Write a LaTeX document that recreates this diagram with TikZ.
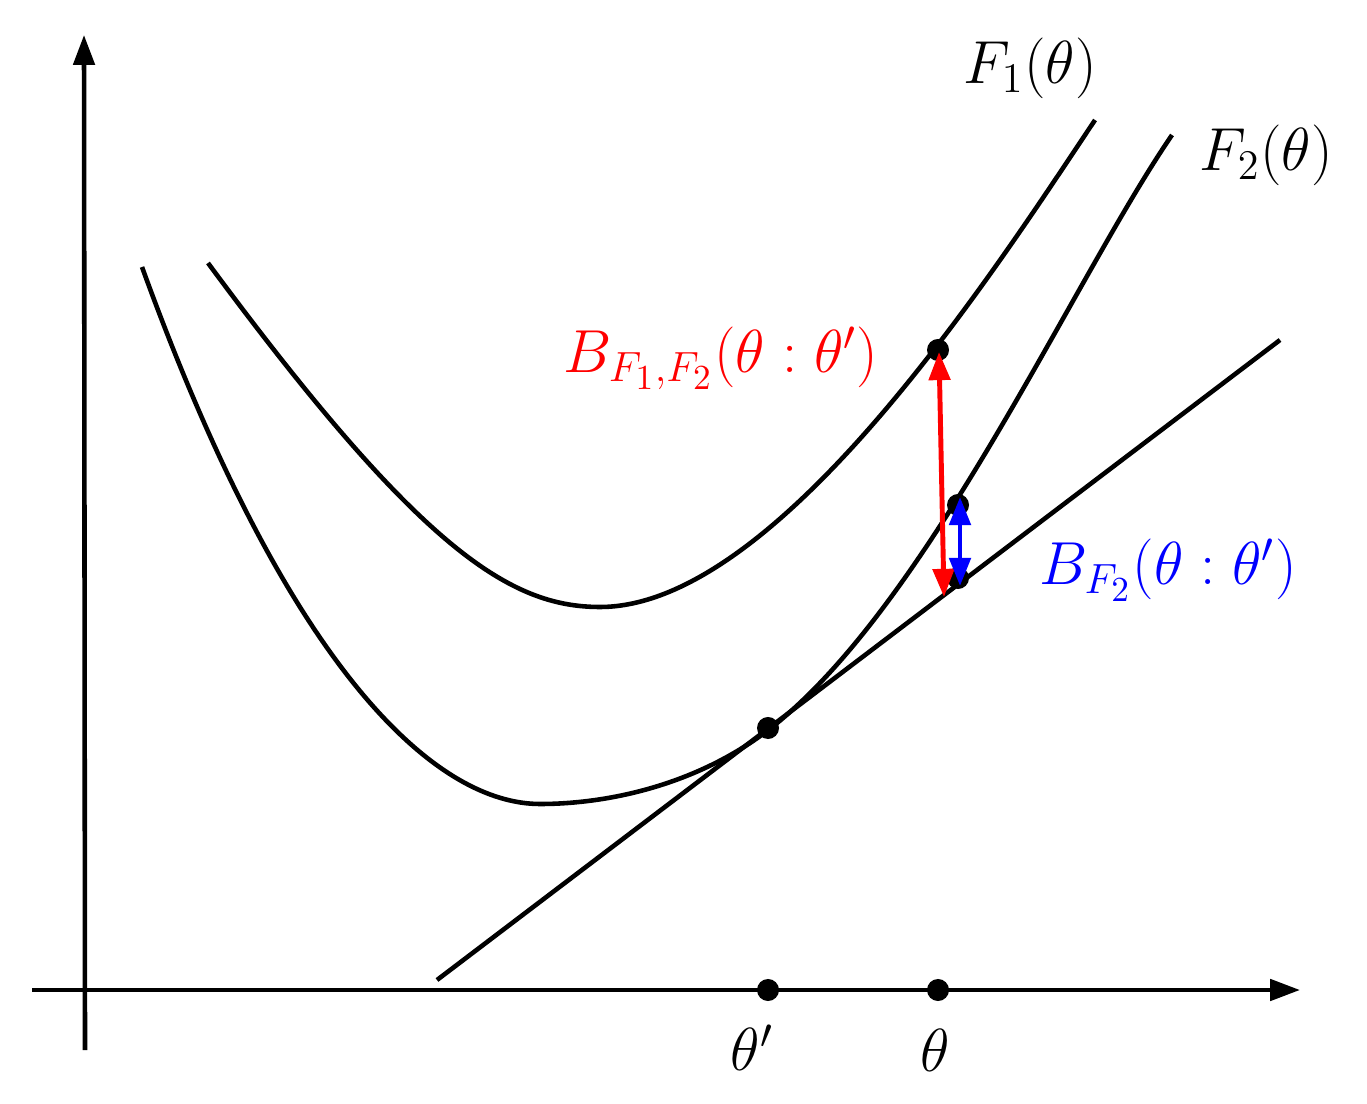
\documentclass[tikz,border=0pt]{standalone}
\usetikzlibrary{arrows.meta}
\begin{document}
\begin{tikzpicture}[x=0.01cm,y=-0.01cm,
  axis/.style={line width=1.3pt,-{Triangle[length=8.5pt,width=6pt]}},
  curve/.style={line width=1.3pt},
  dot/.style={circle,fill=black,inner sep=0pt,minimum size=0.22cm},
  lab/.style={font=\LARGE,inner sep=0pt},
  dbl/.style={line width=1.4pt,{Triangle[length=8pt,width=6pt]}-{Triangle[length=8pt,width=6pt]}}]
\useasboundingbox (0,0) rectangle (1367,1104);
% axes
\coordinate (xs) at (32,990);
\coordinate (xe) at (1300,990);
\coordinate (ys) at (85,1050);
\coordinate (ye) at (84,35);
\draw[axis] (xs) -- (xe);
\draw[axis] (ys) -- (ye);
% F1
\draw[curve] (208,263) .. controls (420,550) and (510,607) .. (600,607)
  .. controls (780,607) and (1000,262) .. (1095,120);
% F2
\draw[curve] (142,267) .. controls (292,681) and (440,804) .. (540,804)
  .. controls (610,804) and (697,784) .. (767,731)
  .. controls (927,609) and (1072,281) .. (1172,135);
% tangent line
\coordinate (ts) at (437,980);
\coordinate (te) at (1280,340);
\draw[curve] (ts) -- (te);
% dots
\node[dot] (p1) at (938,350) {};
\node[dot] (p2) at (958,505) {};
\node[dot] (p3) at (958,578) {};
\node[dot] (p0) at (768,728) {};
\node[dot] (xa) at (768,990) {};
\node[dot] (xb) at (938,990) {};
% arrows
\coordinate (rt) at (939,352);
\coordinate (rb) at (944,597);
\draw[dbl,red] (rb) -- (rt);
\coordinate (bt) at (960,497);
\coordinate (bb) at (960,586);
\draw[dbl,blue] (bb) -- (bt);
% labels
\node[lab] (l1) at (1030,68) {$F_1(\theta)$};
\node[lab] (l2) at (1266,155) {$F_2(\theta)$};
\node[lab,text=red] (lr) at (721,358) {$B_{F_1,F_2}(\theta:\theta')$};
\node[lab,text=blue] (lb) at (1168,570) {$B_{F_2}(\theta:\theta')$};
\node[lab] (lt1) at (752,1048) {$\theta'$};
\node[lab] (lt2) at (935,1050) {$\theta$};
\end{tikzpicture}
\end{document}
